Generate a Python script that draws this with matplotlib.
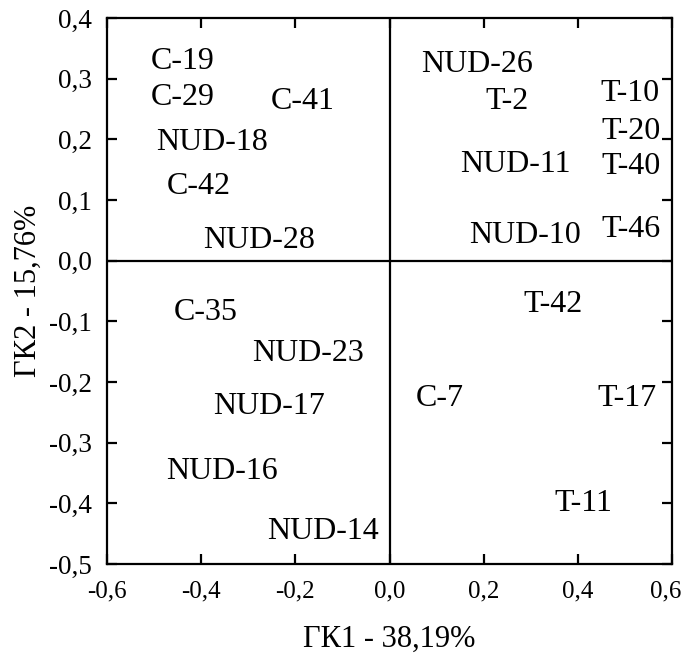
import matplotlib
matplotlib.use("Agg")
import matplotlib.pyplot as plt
import matplotlib.transforms as mtransforms

labels = ["C-19", "C-29", "C-41", "NUD-18", "C-42", "NUD-28",
          "NUD-26", "T-2", "T-10", "T-20", "NUD-11", "T-40", "T-46", "NUD-10",
          "C-35", "NUD-23", "NUD-17", "NUD-16", "NUD-14",
          "T-42", "C-7", "T-17", "T-11"]
gk1 = [-0.439, -0.439, -0.185, -0.377, -0.405, -0.277,
       0.186, 0.249, 0.511, 0.513, 0.268, 0.514, 0.513, 0.287,
       -0.391, -0.172, -0.256, -0.355, -0.142,
       0.348, 0.107, 0.504, 0.412]
gk2 = [0.328, 0.269, 0.262, 0.194, 0.123, 0.034,
       0.323, 0.262, 0.275, 0.213, 0.158, 0.155, 0.051, 0.042,
       -0.086, -0.153, -0.241, -0.348, -0.447,
       -0.073, -0.227, -0.227, -0.400]

xticks = [-0.6, -0.4, -0.2, 0.0, 0.2, 0.4, 0.6]
xticklabels = ["-0,6", "-0,4", "-0,2", "0,0", "0,2", "0,4", "0,6"]
yticks = [-0.5, -0.4, -0.3, -0.2, -0.1, 0.0, 0.1, 0.2, 0.3, 0.4]
yticklabels = ["-0,5", "-0,4", "-0,3", "-0,2", "-0,1", "0,0", "0,1", "0,2", "0,3", "0,4"]
xlabel = "ГК1 - 38,19%"
ylabel = "ГК2 - 15,76%"

plt.rcParams['font.family'] = ['Liberation Serif', 'DejaVu Serif']

fig = plt.figure(figsize=(6.86, 6.55), dpi=100)
ax = fig.add_axes([107/686, 1 - 564/655, 565/686, 546/655])

for lab, x, y in zip(labels, gk1, gk2):
    ax.text(x, y, lab, ha='center', va='center', fontsize=23, color='black')

ax.axhline(0, color='black', lw=1.6)
ax.axvline(0, color='black', lw=1.6)

ax.set_xlim(-0.6, 0.6)
ax.set_ylim(-0.5, 0.4)
ax.set_xticks(xticks)
ax.set_xticklabels(xticklabels)
ax.set_yticks(yticks)
ax.set_yticklabels(yticklabels)
ax.tick_params(direction='in', top=True, right=True, length=7, width=1.6)
ax.tick_params(axis='x', labelsize=18, pad=12)
ax.tick_params(axis='y', labelsize=19.5, pad=11)
for s in ax.spines.values():
    s.set_linewidth(1.6)
ax.set_xlabel(xlabel, fontsize=22, labelpad=16)
ax.set_ylabel(ylabel, fontsize=22, labelpad=4)

last = ax.xaxis.get_major_ticks()[-1].label1
last.set_transform(last.get_transform() +
                   mtransforms.ScaledTranslation(-6/100, 0, fig.dpi_scale_trans))

fig.savefig("out.png", dpi=100)
